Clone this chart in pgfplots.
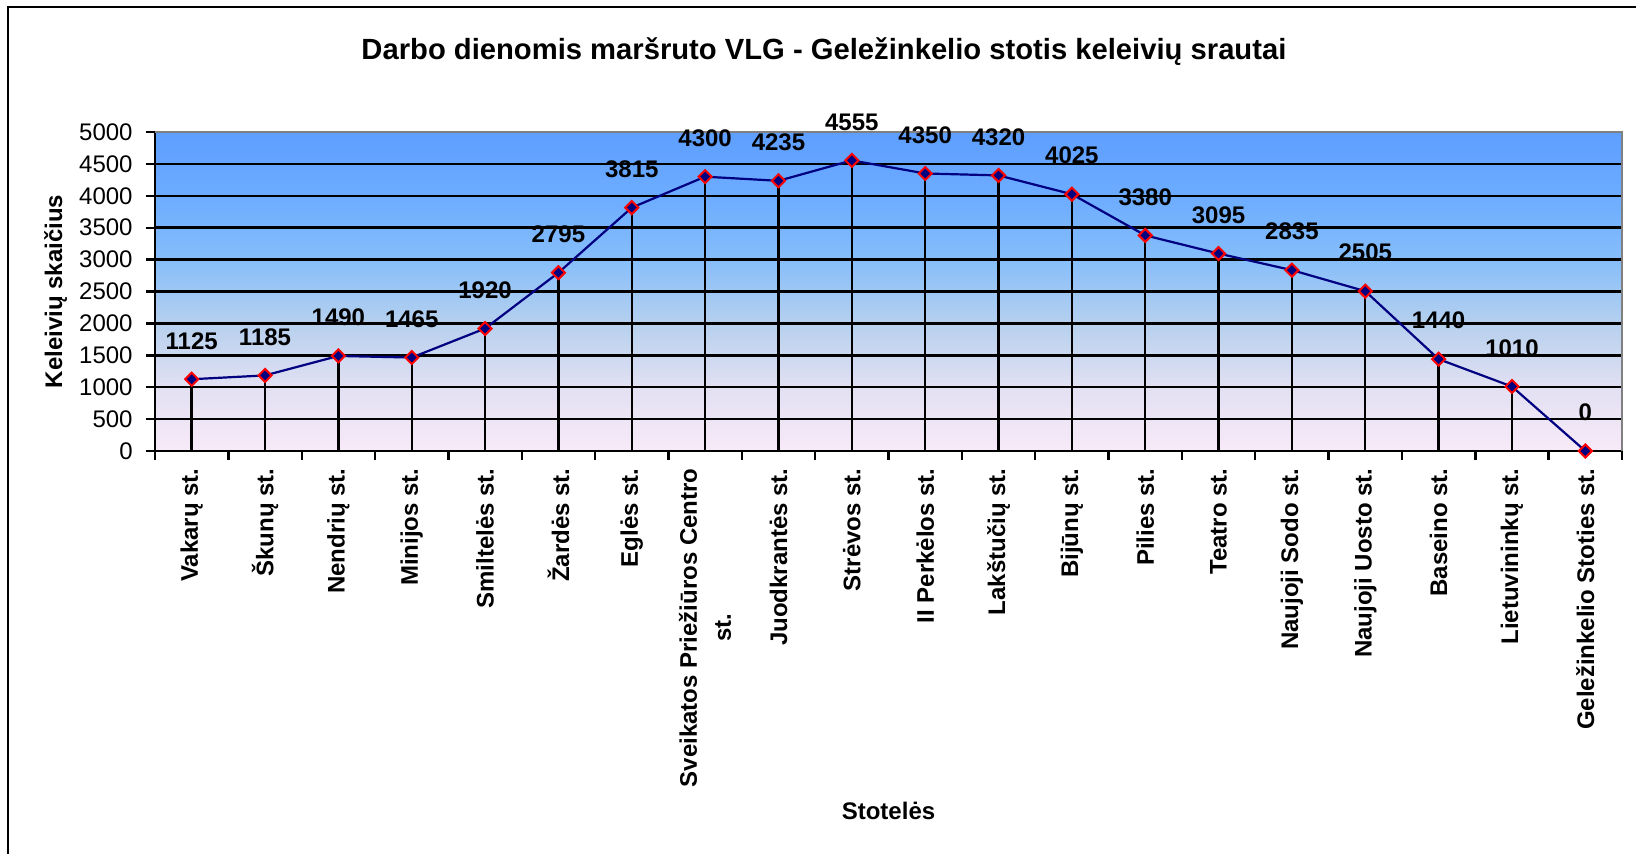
\documentclass[border=0pt]{standalone}
\usepackage{pgfplots}
\pgfplotsset{compat=1.18}
\usepackage{pgfplotstable}
\usepackage{fontspec}
\setmainfont{Liberation Sans}
\definecolor{bg0}{HTML}{F8EAF8}
\definecolor{bg1}{HTML}{E2E0F2}
\definecolor{bg2}{HTML}{B6D0EE}
\definecolor{bg3}{HTML}{86BEFA}
\definecolor{bg4}{HTML}{6CACFF}
\definecolor{bg5}{HTML}{5E9EFF}
\definecolor{navy}{RGB}{0,0,128}
\definecolor{framegray}{RGB}{128,128,128}
\pgfdeclareverticalshading{chartbg}{100bp}{color(0bp)=(bg0); color(25bp)=(bg0); color(35bp)=(bg1); color(45bp)=(bg2); color(55bp)=(bg3); color(65bp)=(bg4); color(75bp)=(bg5); color(100bp)=(bg5)}

\pgfplotstableread{
x y
0 1125
1 1185
2 1490
3 1465
4 1920
5 2795
6 3815
7 4300
8 4235
9 4555
10 4350
11 4320
12 4025
13 3380
14 3095
15 2835
16 2505
17 1440
18 1010
19 0
}\datatable

\begin{document}
\begin{tikzpicture}
\path[use as bounding box] (0,0) rectangle (818pt,426.5pt);
\draw[line width=1.2pt] (4pt,-20pt) -- (4pt,423pt) -- (840pt,423pt);
\begin{axis}[
  at={(77.5pt,201pt)}, anchor=south west,
  scale only axis, width=733.5pt, height=159.5pt,
  xmin=-0.5, xmax=19.5, ymin=0, ymax=5000,
  clip=false,
  axis lines=left,
  axis line style={-, black, line width=1.2pt},
  axis background/.style={shade, shading=chartbg},
  xtick={-0.5,0.5,...,19.5},
  x tick label as interval,
  xticklabels={Vakarų st., Škunų st., Nendrių st., Minijos st., Smiltelės st., Žardės st., Eglės st., {Sveikatos Priežiūros Centro\\st.}, Juodkrantės st., Strėvos st., II Perkėlos st., Lakštučių st., Bijūnų st., Pilies st., Teatro st., Naujoji Sodo st., Naujoji Uosto st., Baseino st., Lietuvininkų st., Geležinkelio Stoties st.},
  ytick={0,500,...,5000},
  tick align=outside,
  major tick length=4.5pt,
  tick style={black, line width=1.2pt},
  ymajorgrids,
  major grid style={black, line width=1.25pt},
  /pgf/number format/assume math mode=true,
  /pgf/number format/1000 sep={},
  yticklabel style={font=\fontsize{12pt}{14pt}\selectfont, anchor=east, inner sep=0pt, xshift=-6.5pt},
  xticklabel shift=4pt,
  xticklabel style={font=\fontsize{12pt}{17pt}\selectfont\bfseries, rotate=90, anchor=east, align=center, inner sep=0pt},
  title={Darbo dienomis maršruto VLG - Geležinkelio stotis keleivių srautai},
  title style={at={(axis description cs:0.456,1.2288)}, anchor=base, yshift=-6pt, font=\fontsize{14.6pt}{17pt}\selectfont\bfseries},
  xlabel={Stotelės},
  xlabel style={at={(axis description cs:0.5,-1.1567)}, anchor=base, font=\fontsize{12pt}{14pt}\selectfont\bfseries},
  ylabel={Keleivių skaičius},
  ylabel style={at={(axis description cs:-0.0677,0.5)}, anchor=center, rotate=0, font=\fontsize{12pt}{14pt}\selectfont\bfseries},
]
\addplot[ycomb, black, line width=1.2pt, no marks] table[x=x,y=y]{\datatable};
\addplot[navy, line width=1.1pt, mark=square*, mark size=2.3pt,
  mark options={draw=red, fill=navy, line width=1pt, rotate=45},
  nodes near coords,
  nodes near coords style={font=\fontsize{12pt}{14pt}\selectfont\bfseries, text=black, anchor=south, inner sep=0pt, yshift=14.5pt}]
  table[x=x,y=y]{\datatable};
\draw[framegray, line width=1pt] (rel axis cs:0,1) -- (rel axis cs:1,1) -- (rel axis cs:1,0);
\end{axis}
\end{tikzpicture}
\end{document}
